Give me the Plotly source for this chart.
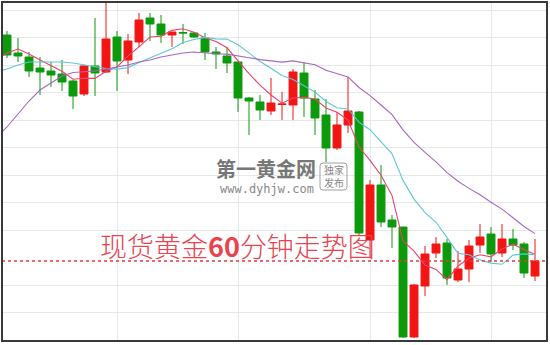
import plotly.graph_objects as go

# Spot gold, hourly bars (index 0 = first bar in the window)
bars = list(range(49))
opens = [1326.5, 1324.7, 1324.3, 1323.2, 1322.9, 1322.6, 1321.9, 1320.6, 1323.4, 1322.8,
         1326.3, 1324.0, 1325.8, 1328.2, 1327.6, 1326.5, 1326.75, 1326.7, 1326.2, 1324.8,
         1324.4, 1323.8, 1320.2, 1319.8, 1318.9, 1319.55, 1319.5, 1322.7, 1320.1, 1318.5,
         1315.2, 1317.5, 1318.8, 1306.0, 1311.5, 1308.0, 1307.3, 1296.3, 1301.4, 1304.7,
         1305.7, 1302.0, 1303.1, 1305.5, 1306.6, 1304.7, 1306.1, 1305.6, 1302.4]
highs = [1326.9, 1326.2, 1324.8, 1324.3, 1323.8, 1324.0, 1322.0, 1323.5, 1328.2, 1330.5,
         1326.9, 1326.6, 1328.7, 1328.7, 1328.5, 1326.8, 1327.6, 1326.8, 1326.7, 1325.3,
         1325.3, 1323.8, 1320.3, 1320.5, 1322.2, 1320.8, 1323.1, 1323.8, 1321.0, 1320.1,
         1318.8, 1322.3, 1318.9, 1312.0, 1313.5, 1308.5, 1307.3, 1301.6, 1305.4, 1306.3,
         1306.1, 1304.9, 1306.0, 1307.6, 1307.3, 1307.6, 1307.1, 1305.8, 1306.1]
lows = [1324.2, 1323.8, 1322.3, 1320.5, 1321.3, 1320.9, 1319.1, 1320.4, 1320.4, 1322.7,
        1320.9, 1322.6, 1325.3, 1325.9, 1325.7, 1325.3, 1325.6, 1326.2, 1324.0, 1323.1,
        1322.7, 1318.8, 1316.5, 1318.0, 1318.5, 1318.0, 1318.0, 1318.3, 1316.5, 1313.8,
        1315.0, 1316.7, 1306.5, 1304.2, 1307.3, 1305.2, 1296.2, 1296.2, 1300.4, 1304.2,
        1301.5, 1301.8, 1301.8, 1304.7, 1303.8, 1304.3, 1305.0, 1302.2, 1301.9]
closes = [1324.5, 1324.4, 1322.9, 1322.8, 1322.5, 1321.8, 1320.4, 1323.4, 1322.7, 1326.1,
          1323.9, 1325.9, 1328.0, 1327.6, 1326.5, 1326.8, 1326.7, 1326.3, 1324.8, 1324.6,
          1323.7, 1320.2, 1319.9, 1319.0, 1319.7, 1319.6, 1322.8, 1320.2, 1318.2, 1315.2,
          1317.5, 1318.9, 1306.7, 1311.5, 1307.8, 1307.3, 1296.3, 1301.5, 1304.6, 1305.6,
          1302.2, 1303.1, 1305.4, 1306.3, 1304.6, 1306.1, 1305.5, 1302.7, 1303.9]

# Moving averages, starting one bar before the window
ma_bars = list(range(-1, 49))
ma5 = [1324.0, 1324.7, 1325.1, 1324.6, 1324.0, 1323.42, 1322.88, 1322.08, 1322.18, 1322.16,
       1322.88, 1323.3, 1324.4, 1325.32, 1326.3, 1326.38, 1326.96, 1327.12, 1326.78, 1326.22,
       1325.84, 1325.22, 1323.92, 1322.64, 1321.48, 1320.5, 1319.68, 1320.2, 1320.26, 1320.1,
       1319.2, 1318.78, 1318.0, 1315.3, 1313.96, 1312.48, 1310.44, 1305.92, 1304.88, 1303.5,
       1303.06, 1302.04, 1303.4, 1304.18, 1304.52, 1304.32, 1305.1, 1305.58, 1305.04, 1304.56]
ma10 = [1322.8, 1323.1, 1323.5, 1323.8, 1323.8, 1323.8, 1323.8, 1323.7, 1323.5, 1323.3,
        1323.15, 1323.09, 1323.24, 1323.75, 1324.23, 1324.63, 1325.13, 1325.76, 1326.05, 1326.26,
        1326.11, 1326.09, 1325.52, 1324.71, 1323.85, 1323.17, 1322.45, 1322.06, 1321.45, 1320.79,
        1319.85, 1319.23, 1319.1, 1317.78, 1317.03, 1315.84, 1314.61, 1311.96, 1310.09, 1308.73,
        1307.77, 1306.24, 1304.66, 1304.53, 1304.01, 1303.69, 1303.57, 1304.49, 1304.61, 1304.54]
ma20 = [1316.2, 1317.3, 1318.6, 1319.9, 1321.0, 1321.7, 1322.4, 1322.75, 1322.8, 1322.9,
        1323.1, 1323.3, 1323.5, 1323.8, 1324.0, 1324.3, 1324.5, 1324.7, 1324.8, 1324.7,
        1324.63, 1324.59, 1324.38, 1324.23, 1324.04, 1323.9, 1323.79, 1323.91, 1323.75, 1323.53,
        1322.98, 1322.66, 1322.31, 1321.25, 1320.44, 1319.5, 1318.53, 1317.01, 1315.77, 1314.76,
        1313.81, 1312.74, 1311.88, 1311.16, 1310.52, 1309.77, 1309.09, 1308.23, 1307.35, 1306.64]

title_text = "现货黄金<b>60</b>分钟走势图"
brand_name = "第一黄金网"
brand_url = "www.dyhjw.com"
badge_lines = ["独家", "发布"]

# gridlines
price_grid = [1329, 1326.25, 1323.5, 1320.75, 1318, 1315.25, 1312.5, 1309.75, 1307, 1301.5, 1298.75]
session_marks = [10, 21, 33, 44]

UP = "#f31414"
DOWN = "#0c990c"

fig = go.Figure()
fig.add_trace(go.Candlestick(
    x=bars, open=opens, high=highs, low=lows, close=closes,
    increasing=dict(line=dict(color=UP, width=1), fillcolor=UP),
    decreasing=dict(line=dict(color=DOWN, width=1), fillcolor=DOWN),
    whiskerwidth=0, showlegend=False, hoverinfo="skip",
))
for vals, col in [(ma5, "#e8456a"), (ma10, "#5ec8d8"), (ma20, "#a866c4")]:
    fig.add_trace(go.Scatter(x=ma_bars, y=vals, mode="lines",
                             line=dict(color=col, width=1.1),
                             showlegend=False, hoverinfo="skip"))

# last price line
fig.add_shape(type="line", xref="paper", x0=0, x1=1, yref="y",
              y0=closes[-1], y1=closes[-1],
              line=dict(color="#e8383d", width=1.3, dash="dot"))
# frame
fig.add_shape(type="rect", xref="paper", yref="paper", x0=0, x1=1, y0=0, y1=1,
              line=dict(color="#3a3a3a", width=2))

fig.add_annotation(text=title_text, xref="paper", yref="paper",
                   x=0.4325, y=0.283, xanchor="center", yanchor="middle",
                   showarrow=False, borderpad=0,
                   font=dict(family="Noto Sans CJK SC", size=27, weight=300,
                             color="#e8434f"))
fig.add_annotation(text="<b>" + brand_name + "</b>", xref="paper", yref="paper",
                   x=0.4835, y=0.5045, xanchor="center", yanchor="middle",
                   showarrow=False, borderpad=0,
                   font=dict(family="DejaVu Sans, Noto Sans CJK SC", size=20,
                             color="#777777"))
fig.add_annotation(text=brand_url, xref="paper", yref="paper",
                   x=0.487, y=0.449, xanchor="center", yanchor="middle",
                   showarrow=False, borderpad=0,
                   font=dict(family="DejaVu Sans Mono", size=12, color="#8a8a8a"))
fig.add_shape(type="path", xref="paper", yref="paper",
              path="M 0.5890 0.4454 L 0.6275 0.4454 Q 0.6330 0.4454 0.6330 0.4540 "
                   "L 0.6330 0.5164 Q 0.6330 0.525 0.6275 0.525 L 0.5890 0.525 "
                   "Q 0.5835 0.525 0.5835 0.5164 L 0.5835 0.4540 Q 0.5835 0.4454 0.5890 0.4454 Z",
              line=dict(color="#a0a0a0", width=1))
for txt, yy in zip(badge_lines, [0.5044, 0.4661]):
    fig.add_annotation(text=txt, xref="paper", yref="paper",
                       x=0.6083, y=yy, xanchor="center", yanchor="middle",
                       showarrow=False, borderpad=0,
                       font=dict(family="DejaVu Sans, Noto Sans CJK SC", size=10,
                                 color="#888888"))

fig.update_layout(
    width=550, height=345,
    margin=dict(l=2, r=3, t=2, b=4),
    paper_bgcolor="white", plot_bgcolor="white",
    boxgap=0.2, boxgroupgap=0.1,
    xaxis=dict(range=[-0.4545, 49.09], rangeslider=dict(visible=False),
               tickvals=session_marks, showticklabels=False, ticks="",
               showgrid=True, gridcolor="#e3ebf0", gridwidth=1, zeroline=False),
    yaxis=dict(range=[1295.9, 1329.8], tickvals=price_grid, showticklabels=False,
               ticks="", showgrid=True, gridcolor="#e8e8e8", gridwidth=1, zeroline=False),
)

fig.write_html("out.html")
